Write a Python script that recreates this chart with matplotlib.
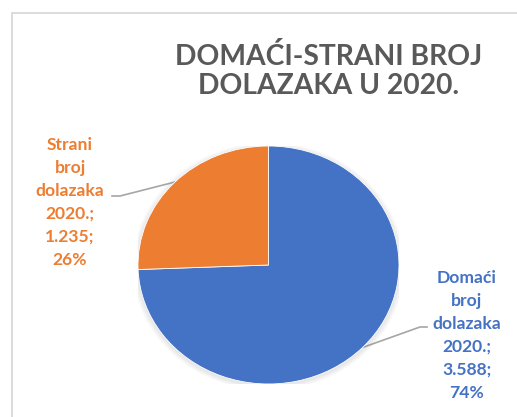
import matplotlib
matplotlib.use("Agg")
import matplotlib.pyplot as plt
from matplotlib.patches import Rectangle, Ellipse

categories = ["Domaći broj dolazaka 2020.", "Strani broj dolazaka 2020."]
values = [3588, 1235]
colors = ["#4472C4", "#ED7D31"]
title_lines = ["DOMAĆI-STRANI BROJ", "DOLAZAKA U 2020."]

W, H = 517, 417
fig = plt.figure(figsize=(W / 100, H / 100), dpi=100)
ax = fig.add_axes([0, 0, 1, 1])
ax.set_xlim(0, W)
ax.set_ylim(0, H)
ax.axis("off")

def Y(y):
    return H - y

# chart border
ax.add_patch(Rectangle((12, Y(600)), 700, 600 - 13, fill=False,
                       edgecolor="#D9D9D9", linewidth=1.3))

# pie axes (slightly stretched horizontally, as in the reference)
px0, px1, py0, py1 = 138, 399, 146, 384
pax = fig.add_axes([px0 / W, (H - py1) / H, (px1 - px0) / W, (py1 - py0) / H])
for k in range(1, 7):
    s = 1 + k * 0.007
    pax.add_patch(Ellipse((0, -0.012), 2 * s, 2 * s, facecolor="#808080",
                          alpha=0.03, edgecolor="none", zorder=0))
pax.pie(values, colors=colors, startangle=90, counterclock=False,
        radius=1, wedgeprops=dict(edgecolor="white", linewidth=0.6, zorder=2))
pax.set_aspect("auto")
pax.set_xlim(-1, 1)
pax.set_ylim(-1, 1)
pax.axis("off")

font = "Lato"
ax.text(329, Y(65), title_lines[0], ha="center", va="baseline",
        fontsize=20.3, fontweight="bold", color="#595959", family=font)
ax.text(329, Y(94), title_lines[1], ha="center", va="baseline",
        fontsize=20.3, fontweight="bold", color="#595959", family=font)

total = sum(values)

def label_lines(cat, v):
    words = cat.split(" ")
    num = f"{v:,}".replace(",", ".")
    pct = f"{round(100 * v / total)}%"
    return words[:-1] + [words[-1] + ";", num + ";", pct]

def draw_label(x, y0, lines, color):
    for i, line in enumerate(lines):
        ax.text(x, Y(y0 + 23 * i), line, ha="center", va="baseline",
                fontsize=12.6, fontweight="bold", color=color, family=font)

draw_label(70, 150, label_lines(categories[1], values[1]), colors[1])
draw_label(467, 283, label_lines(categories[0], values[0]), colors[0])

# leader lines
ax.plot([112, 120, 175], [Y(196), Y(196), Y(182)], color="#A6A6A6", lw=1.2)
ax.plot([427, 420, 364], [Y(327), Y(327), Y(347)], color="#A6A6A6", lw=1.2)

fig.savefig("out.png", dpi=100)
